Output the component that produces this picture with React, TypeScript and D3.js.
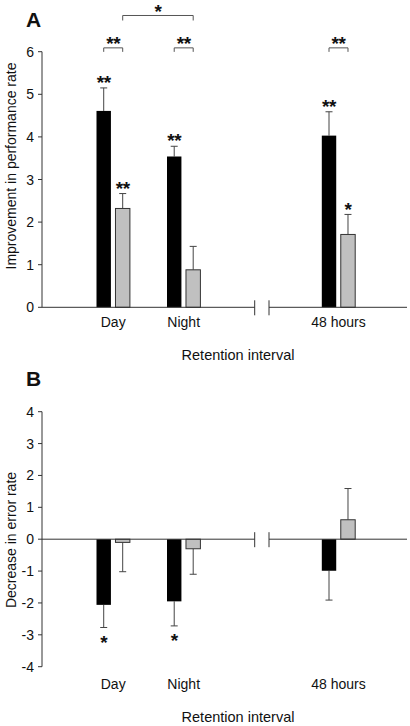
import React from "react";
import * as d3 from "d3";

// ---- data ----
const categories = ["Day", "Night", "48 hours"];
const seriesKeys = ["Group 1", "Group 2"];

const perfGroup1 = [4.61, 3.54, 4.03];
const perfGroup1Err = [0.54, 0.24, 0.56];
const perfGroup2 = [2.32, 0.88, 1.71];
const perfGroup2Err = [0.35, 0.55, 0.47];
const perfStars1 = ["**", "**", "**"];
const perfStars2 = ["**", "", "*"];

const errGroup1 = [-2.06, -1.95, -0.99];
const errGroup1Err = [0.71, 0.77, 0.92];
const errGroup2 = [-0.1, -0.3, 0.61];
const errGroup2Err = [0.92, 0.8, 0.98];
const errStars1 = ["*", "*", ""];
const errStars2 = ["", "", ""];

const perfTicks = [0, 1, 2, 3, 4, 5, 6];
const errTicks = [-4, -3, -2, -1, 0, 1, 2, 3, 4];

// comparison brackets in panel A
const bracketFrom = [["Day", "Group 1"], ["Night", "Group 1"], ["48 hours", "Group 1"], ["Day", "Group 2"]];
const bracketTo = [["Day", "Group 2"], ["Night", "Group 2"], ["48 hours", "Group 2"], ["Night", "Group 2"]];
const bracketLabels = ["**", "**", "**", "*"];
const bracketLevels = [6.09, 6.09, 6.09, 6.85];

const FONT = "'Liberation Sans', Arial, Helvetica, sans-serif";
const AXIS = "#333";
const ERR = "#444";
const GRAY = "#c0c0c0";

const xCat = d3.scaleOrdinal<string, number>().domain(categories).range([113.2, 183.7, 338.5]);
const xSub = d3.scaleBand<string>().domain(seriesKeys).range([-16.7, 16.7]).paddingInner(0.24);
const barW = xSub.bandwidth();
const barCenter = (c: string, s: string) => xCat(c) + (xSub(s) as number) + barW / 2;

const AXIS_X = 42;
const X_END = 407;
const BREAK1 = 254.7;
const BREAK2 = 269;

type PanelProps = {
  label: string;
  labelY: number;
  yScale: d3.ScaleLinear<number, number>;
  ticks: number[];
  s1: number[];
  e1: number[];
  s2: number[];
  e2: number[];
  st1: string[];
  st2: string[];
  yTitle: string;
  yTitleCenter: number;
  catLabelY: number;
  xTitleY: number;
};

const STAR_SIZE = 19;

function Star({ x, cy, text }: { x: number; cy: number; text: string }) {
  if (!text) return null;
  return (
    <text
      x={x}
      y={cy + STAR_SIZE * 0.585}
      textAnchor="middle"
      fontSize={STAR_SIZE}
      fontWeight="bold"
      fontFamily={FONT}
      fill="#111"
      letterSpacing={-0.5}
    >
      {text}
    </text>
  );
}

function Panel(p: PanelProps) {
  const y = p.yScale;
  const y0 = y(0);
  const [yMin, yMax] = y.domain();
  const series = [
    { key: seriesKeys[0], vals: p.s1, errs: p.e1, stars: p.st1, fill: "#000" },
    { key: seriesKeys[1], vals: p.s2, errs: p.e2, stars: p.st2, fill: GRAY },
  ];
  return (
    <g>
      <text x={26} y={p.labelY} fontSize={21} fontWeight="bold" fontFamily={FONT} fill="#111">
        {p.label}
      </text>
      {/* y axis */}
      <line x1={AXIS_X} x2={AXIS_X} y1={y(yMax)} y2={y(yMin)} stroke={AXIS} strokeWidth={1} />
      {p.ticks.map((t) => (
        <g key={t}>
          <line x1={AXIS_X - 4} x2={AXIS_X} y1={y(t)} y2={y(t)} stroke={AXIS} strokeWidth={1} />
          <text x={AXIS_X - 8} y={y(t) + 5} textAnchor="end" fontSize={14} fontFamily={FONT} fill="#111">
            {String(t)}
          </text>
        </g>
      ))}
      <text
        transform={`translate(16,${p.yTitleCenter}) rotate(-90)`}
        textAnchor="middle"
        fontSize={14}
        fontFamily={FONT}
        fill="#111"
      >
        {p.yTitle}
      </text>
      {/* bars */}
      {series.map((s) =>
        categories.map((c, i) => {
          const v = s.vals[i];
          const cx = barCenter(c, s.key);
          const top = Math.min(y(v), y0);
          const h = Math.abs(y(v) - y0);
          const dir = v >= 0 ? 1 : -1;
          const errEnd = y(v + dir * s.errs[i]);
          return (
            <g key={s.key + c}>
              <line x1={cx} x2={cx} y1={y(v)} y2={errEnd} stroke={ERR} strokeWidth={1} />
              <line x1={cx - 3.5} x2={cx + 3.5} y1={errEnd} y2={errEnd} stroke={ERR} strokeWidth={1} />
              <rect
                x={cx - barW / 2}
                y={top}
                width={barW}
                height={h}
                fill={s.fill}
                stroke={s.fill === "#000" ? "#000" : "#333"}
                strokeWidth={s.fill === "#000" ? 0 : 1}
              />
              <Star x={cx} cy={errEnd - dir * 10} text={s.stars[i]} />
            </g>
          );
        })
      )}
      {/* x axis with break */}
      <line x1={AXIS_X} x2={BREAK1} y1={y0} y2={y0} stroke={AXIS} strokeWidth={1} />
      <line x1={BREAK2} x2={X_END} y1={y0} y2={y0} stroke={AXIS} strokeWidth={1} />
      <line x1={BREAK1} x2={BREAK1} y1={y0 - 7} y2={y0 + 8} stroke={AXIS} strokeWidth={1} />
      <line x1={BREAK2} x2={BREAK2} y1={y0 - 7} y2={y0 + 8} stroke={AXIS} strokeWidth={1} />
      {categories.map((c) => (
        <text key={c} x={xCat(c)} y={p.catLabelY} textAnchor="middle" fontSize={14} fontFamily={FONT} fill="#111">
          {c}
        </text>
      ))}
      <text x={238} y={p.xTitleY} textAnchor="middle" fontSize={14.5} fontFamily={FONT} fill="#111">
        Retention interval
      </text>
    </g>
  );
}

export default function App() {
  const yA = d3.scaleLinear().domain([0, 6]).range([307.3, 51.7]);
  const yB = d3.scaleLinear().domain([-4, 4]).range([666.7, 411.7]);
  return (
    <svg width={410} height={726} style={{ position: "absolute", left: 0, top: 0, background: "#fff" }}>
      <rect width={410} height={726} fill="#fff" />
      <Panel
        label="A"
        labelY={27}
        yScale={yA}
        ticks={perfTicks}
        s1={perfGroup1}
        e1={perfGroup1Err}
        s2={perfGroup2}
        e2={perfGroup2Err}
        st1={perfStars1}
        st2={perfStars2}
        yTitle="Improvement in performance rate"
        yTitleCenter={166}
        catLabelY={327}
        xTitleY={360}
      />
      {bracketLabels.map((lab, i) => {
        const xa = barCenter(bracketFrom[i][0], bracketFrom[i][1]);
        const xb = barCenter(bracketTo[i][0], bracketTo[i][1]);
        const by = yA(bracketLevels[i]);
        const drop = bracketLevels[i] > 6.5 ? 5 : 4;
        return (
          <g key={i}>
            <path d={`M${xa},${by + drop}V${by}H${xb}V${by + drop}`} fill="none" stroke="#555" strokeWidth={1} />
            <Star x={(xa + xb) / 2} cy={by - 9} text={lab} />
          </g>
        );
      })}
      <Panel
        label="B"
        labelY={386}
        yScale={yB}
        ticks={errTicks}
        s1={errGroup1}
        e1={errGroup1Err}
        s2={errGroup2}
        e2={errGroup2Err}
        st1={errStars1}
        st2={errStars2}
        yTitle="Decrease in error rate"
        yTitleCenter={540}
        catLabelY={689}
        xTitleY={722}
      />
    </svg>
  );
}
